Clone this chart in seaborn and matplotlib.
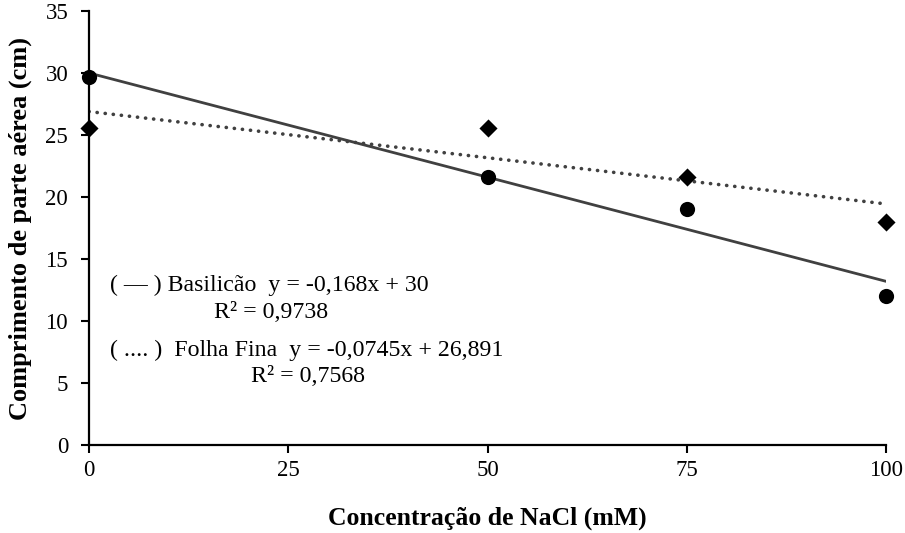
import numpy as np
import pandas as pd
import matplotlib
matplotlib.use("Agg")
import matplotlib.pyplot as plt
import seaborn as sns

# Data
nacl = [0, 50, 75, 100]
basilicao = [29.7, 21.6, 19.0, 12.0]
folha_fina = [25.6, 25.6, 21.6, 18.0]
# Trend line coefficients (from chart labels)
bas_slope, bas_int = -0.168, 30.0
ff_slope, ff_int = -0.0745, 26.891
x_ticks = [0, 25, 50, 75, 100]
y_ticks = [0, 5, 10, 15, 20, 25, 30, 35]

sns.set_theme(style="white")
plt.rcParams['font.family'] = ['Liberation Serif', 'DejaVu Serif']
plt.rcParams['text.color'] = 'black'
plt.rcParams['axes.labelcolor'] = 'black'

fig = plt.figure(figsize=(9.05, 5.33), dpi=100)
ax = fig.add_axes([89/905, 1-445/533, (886-89)/905, (445-11)/533])

df_b = pd.DataFrame({"x": nacl, "y": basilicao})
df_f = pd.DataFrame({"x": nacl, "y": folha_fina})
xl = np.array([min(nacl), max(nacl)])
tr_b = pd.DataFrame({"x": xl, "y": bas_slope * xl + bas_int})
tr_f = pd.DataFrame({"x": xl, "y": ff_slope * xl + ff_int})

sns.lineplot(data=tr_b, x="x", y="y", ax=ax, color="#404040", lw=2, zorder=2)
sns.lineplot(data=tr_f, x="x", y="y", ax=ax, color="#404040", lw=2.6,
             linestyle=(0, (0.05, 2.2)), zorder=2)
ax.lines[-1].set_dash_capstyle("round")
sns.scatterplot(data=df_b, x="x", y="y", ax=ax, marker="o", s=120, color="black",
                edgecolor="black", linewidth=0, zorder=3, clip_on=False)
sns.scatterplot(data=df_f, x="x", y="y", ax=ax, marker="D", s=85, color="black",
                edgecolor="black", linewidth=0, zorder=3, clip_on=False)

ax.set_xlim(0, 100)
ax.set_ylim(0, 35)
ax.set_xticks(x_ticks)
ax.set_yticks(y_ticks)
ax.tick_params(axis="both", direction="out", length=6, width=1.5, color="black",
               labelsize=16.5, labelcolor="black", bottom=True, left=True)
ax.tick_params(axis="x", pad=5)
ax.tick_params(axis="y", pad=9)
for s in ["top", "right"]:
    ax.spines[s].set_visible(False)
for s in ["left", "bottom"]:
    ax.spines[s].set_color("black")
    ax.spines[s].set_linewidth(1.6)

ax.set_xlabel("Concentração de NaCl (mM)", fontsize=18.5, fontweight="bold", labelpad=18)
ax.set_ylabel("Comprimento de parte aérea (cm)", fontsize=19, fontweight="bold", labelpad=10)

fs = 17.2
fig.text(110/905, 1-285/533, "( — ) Basilicão  y = -0,168x + 30", fontsize=fs,
         va="center", ha="left")
fig.text(271/905, 1-313/533, "R² = 0,9738", fontsize=fs, va="center", ha="center")
fig.text(110/905, 1-350/533, "( .... )  Folha Fina  y = -0,0745x + 26,891", fontsize=fs,
         va="center", ha="left")
fig.text(308/905, 1-377/533, "R² = 0,7568", fontsize=fs, va="center", ha="center")

fig.savefig("out.png", dpi=100)
